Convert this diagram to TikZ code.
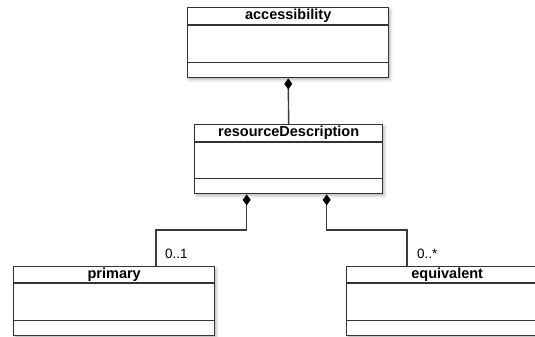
\documentclass[tikz,border=0pt]{standalone}
\usepackage{fontspec}
\setmainfont{Liberation Sans}
\usetikzlibrary{arrows.meta,shadows.blur}
\definecolor{edge}{HTML}{333333}
\definecolor{wire}{HTML}{3A3A3A}
\tikzset{
  cls/.style={draw=edge, line width=1.4pt, fill=white, rectangle, inner sep=0pt,
              anchor=north west,
              blur shadow={shadow xshift=1.5pt, shadow yshift=-2pt,
                           shadow blur radius=3pt, shadow opacity=30}},
  ttl/.style={font=\fontsize{14.5}{16}\selectfont\bfseries, text=black, inner sep=0pt},
  sepline/.style={draw=edge, line width=1.4pt},
  wirestyle/.style={draw=wire, line width=1.4pt},
  compo/.style={wirestyle, {Diamond[length=11pt, width=8pt, fill=black, color=black]}-},
  mult/.style={font=\fontsize{13.5}{15}\selectfont, text=black, inner sep=0pt, anchor=base west}
}
\begin{document}
\begin{tikzpicture}[x=1pt, y=-1pt]
  \useasboundingbox (0,0) rectangle (535,337);
  \clip (0,0) rectangle (535,337);

  % accessibility class
  \node[cls, minimum width=201pt, minimum height=70pt] (acc) at (187,7) {};
  \node[ttl] (accT) at ([yshift=-9pt]acc.north) {accessibility};
  \draw[sepline] ([yshift=-18pt]acc.north west) -- ([yshift=-18pt]acc.north east);
  \draw[sepline] ([yshift=16pt]acc.south west) -- ([yshift=16pt]acc.south east);

  % resourceDescription class
  \node[cls, minimum width=188pt, minimum height=69pt] (rd) at (194,124) {};
  \node[ttl] (rdT) at ([yshift=-9pt]rd.north) {resourceDescription};
  \draw[sepline] ([yshift=-18pt]rd.north west) -- ([yshift=-18pt]rd.north east);
  \draw[sepline] ([yshift=16pt]rd.south west) -- ([yshift=16pt]rd.south east);

  % primary class
  \node[cls, minimum width=201pt, minimum height=69pt] (pr) at (13,266) {};
  \node[ttl] (prT) at ([yshift=-9pt]pr.north) {primary};
  \draw[sepline] ([yshift=-17pt]pr.north west) -- ([yshift=-17pt]pr.north east);
  \draw[sepline] ([yshift=16pt]pr.south west) -- ([yshift=16pt]pr.south east);

  % equivalent class
  \node[cls, minimum width=201pt, minimum height=69pt] (eq) at (346,266) {};
  \node[ttl] (eqT) at ([yshift=-9pt]eq.north) {equivalent};
  \draw[sepline] ([yshift=-17pt]eq.north west) -- ([yshift=-17pt]eq.north east);
  \draw[sepline] ([yshift=16pt]eq.south west) -- ([yshift=16pt]eq.south east);

  % composition: accessibility -> resourceDescription
  \draw[compo] (acc.south) -- (rd.north);

  % composition ends on resourceDescription
  \coordinate (p1) at ([xshift=-42pt]rd.south);
  \coordinate (p2) at ([xshift=38pt]rd.south);
  \coordinate (pin) at ([xshift=143pt]pr.north west);
  \coordinate (ein) at ([xshift=61pt]eq.north west);
  \coordinate (k1) at (156,230);
  \coordinate (k2) at (407,230);

  \draw[compo] (p1) |- (k1) -- (pin);
  \draw[compo] (p2) |- (k2) -- (ein);

  % multiplicities
  \node[mult] (m1) at ([xshift=9pt,yshift=8pt]pin) {0..1};
  \node[mult] (m2) at ([xshift=10pt,yshift=8pt]ein) {0..*};
\end{tikzpicture}
\end{document}
